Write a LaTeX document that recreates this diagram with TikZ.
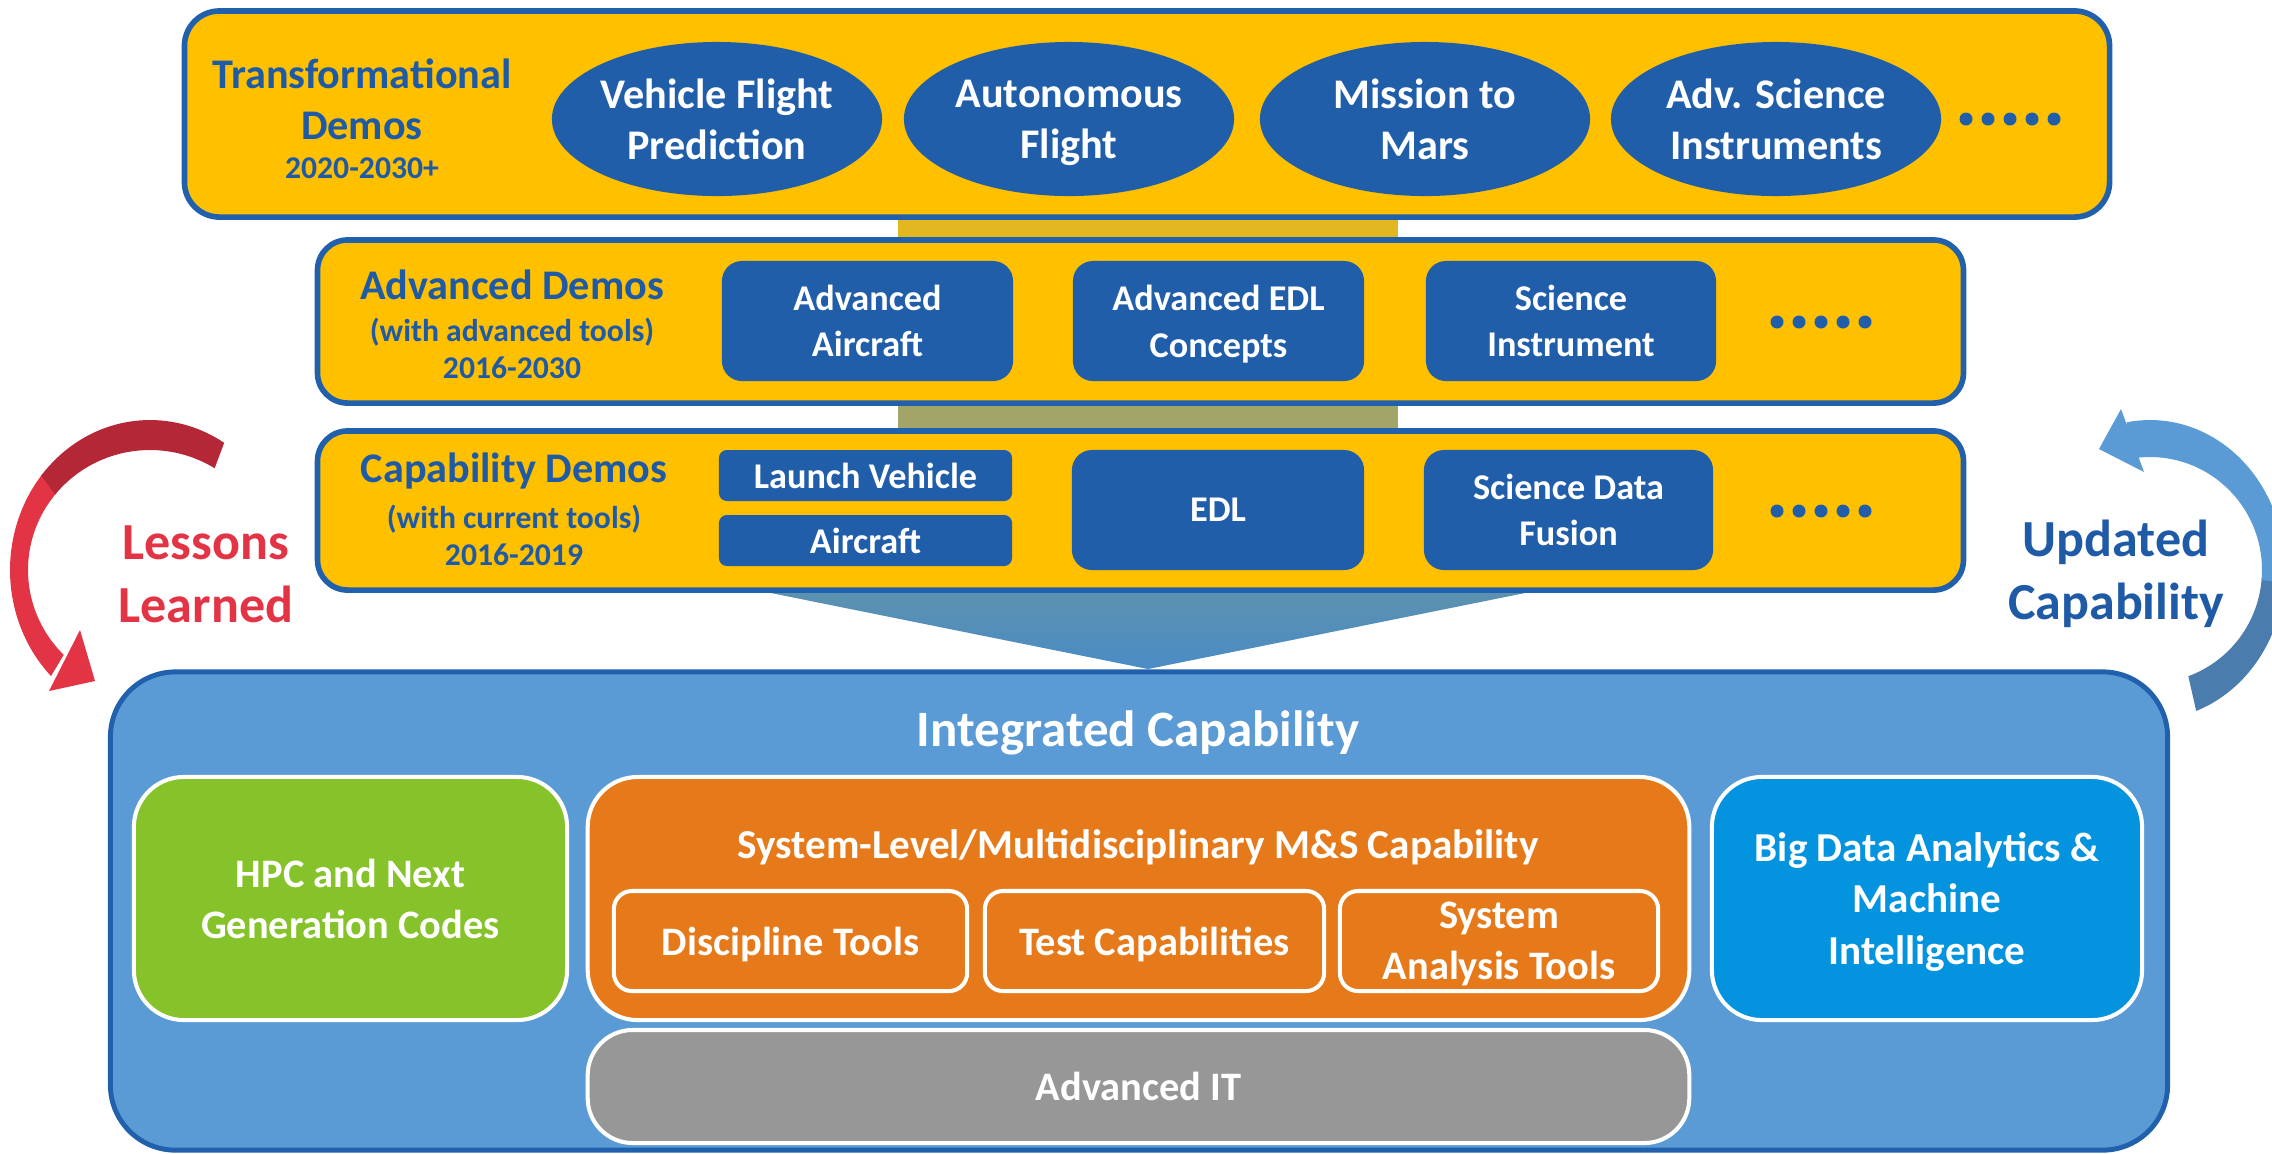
\documentclass[tikz,border=0pt]{standalone}
\usepackage{fontspec}
\setmainfont{Carlito}
\usetikzlibrary{shapes.geometric}
\newcommand\nodepth[1]{\raisebox{0pt}[\height][0pt]{#1}}
\definecolor{gold}{HTML}{FFC000}
\definecolor{navy}{HTML}{2160AC}
\definecolor{tileblue}{HTML}{215EA9}
\definecolor{labelblue}{HTML}{1F5AA6}
\definecolor{skyblue}{HTML}{5B9BD5}
\definecolor{leaf}{HTML}{86C229}
\definecolor{tangerine}{HTML}{E67A1A}
\definecolor{cyanblue}{HTML}{0493DE}
\definecolor{stone}{HTML}{979797}
\definecolor{bandgold}{HTML}{E3B720}
\definecolor{bandolive}{HTML}{A2A567}
\definecolor{lessonred}{HTML}{E33445}
\definecolor{lessondark}{HTML}{B42736}
\definecolor{updlight}{HTML}{5B9BD5}
\definecolor{upddark}{HTML}{4A7DAE}
\definecolor{funneltop}{HTML}{6393A6}
\definecolor{funnelbot}{HTML}{4A8CC6}
\tikzset{
  tier/.style={draw=navy, line width=1.6pt, fill=gold, inner sep=0pt},
  oval/.style={ellipse, fill=tileblue, inner sep=0pt, minimum width=3.3cm, minimum height=1.54cm,
    text=white, align=center, font=\fontsize{12}{14.5}\selectfont\bfseries},
  tile/.style={rounded corners=0.2cm, fill=tileblue, inner sep=0pt, text=white, align=center,
    font=\fontsize{10.3}{13.3}\selectfont\bfseries},
  tiertitle/.style={text=labelblue, align=center, font=\fontsize{12}{14.5}\selectfont\bfseries},
  tiersub/.style={text=labelblue, align=center, font=\fontsize{9}{10.5}\selectfont\bfseries},
  dotmark/.style={circle, fill=tileblue, inner sep=0pt, minimum size=0.13cm},
  block/.style={draw=white, line width=1.15pt, inner sep=0pt, text=white, align=center,
    font=\fontsize{11.5}{14.5}\selectfont\bfseries},
  loopword/.style={align=center, font=\fontsize{14.8}{17.9}\selectfont\bfseries},
}
\begin{document}
\begin{tikzpicture}[x=0.01cm, y=-0.01cm]
\useasboundingbox (0,0) rectangle (2272,1153);

% links between the demo tiers
\fill[bandgold] (898,214) rectangle (1398,242);
\fill[bandolive] (898,400) rectangle (1398,433);

% funnel from the capability demos into the integrated capability
\shade[top color=funneltop, bottom color=funnelbot] (627,564) -- (1669,564) -- (1148,669) -- cycle;

% demo tiers
\node[tier, rounded corners=0.35cm, minimum width=19.24cm, minimum height=2.06cm] (transf) at (1147,114) {};
\node[tier, rounded corners=0.3cm, minimum width=16.45cm, minimum height=1.63cm] (adv) at (1140.5,321.5) {};
\node[tier, rounded corners=0.3cm, minimum width=16.45cm, minimum height=1.59cm] (cap) at (1140.5,510.5) {};

% transformational demos
\node[tiertitle] (transfT) at (362,99) {Transformational\\Demos};
\node[tiersub] (transfY) at (362,168) {2020-2030+};
\node[oval] (vfp) at (717,119) {Vehicle Flight\\Prediction};
\node[oval] (auto) at (1069,119) {Autonomous\\\nodepth{Flight}};
\node[oval] (mars) at (1425,119) {Mission to\\Mars};
\node[oval] (asi) at (1776,119) {Adv. Science\\Instruments};
\foreach \i in {0,...,4} \node[dotmark] (tdot\i) at ({1966+22*\i},119) {};

% advanced demos
\node[tiertitle] (advT) at (512,285) {Advanced Demos};
\node[tiersub] (advS) at (512,348) {(with advanced tools)\\2016-2030};
\node[tile, minimum width=2.91cm, minimum height=1.2cm] (aac) at (867.5,321) {Advanced\\Aircraft};
\node[tile, minimum width=2.91cm, minimum height=1.2cm] (aedl) at (1218.5,321) {Advanced EDL\\\nodepth{Concepts}};
\node[tile, minimum width=2.9cm, minimum height=1.2cm] (sci) at (1571,321) {Science\\Instrument};
\foreach \i in {0,...,4} \node[dotmark] (adot\i) at ({1777+22*\i},322) {};

% capability demos
\node[tiertitle] (capT) at (514,471) {Capability Demos};
\node[tiersub] (capS) at (514,535) {(with current tools)\\2016-2019};
\node[tile, rounded corners=0.08cm, minimum width=2.93cm, minimum height=0.51cm] (lv) at (865.5,475.5) {Launch Vehicle};
\node[tile, rounded corners=0.08cm, minimum width=2.93cm, minimum height=0.51cm] (ac) at (865.5,540.5) {Aircraft};
\node[tile, minimum width=2.92cm, minimum height=1.2cm] (edl) at (1218,510) {EDL};
\node[tile, minimum width=2.89cm, minimum height=1.2cm] (sdf) at (1568.5,510) {Science Data\\Fusion};
\foreach \i in {0,...,4} \node[dotmark] (cdot\i) at ({1777+22*\i},511) {};

% integrated capability
\node[draw=navy, line width=1.4pt, fill=skyblue, rounded corners=0.65cm, inner sep=0pt,
  minimum width=20.56cm, minimum height=4.78cm] (integ) at (1139,911) {};
\node[text=white, font=\fontsize{14.5}{17}\selectfont\bfseries] (integT) at (1138,729) {\nodepth{Integrated Capability}};
\node[block, fill=leaf, rounded corners=0.5cm, minimum width=4.33cm, minimum height=2.43cm] (hpc) at (350.5,898.5) {HPC and Next\\Generation Codes};
\node[block, fill=tangerine, rounded corners=0.5cm, minimum width=11.01cm, minimum height=2.43cm] (ms) at (1138.5,898.5) {};
\node[text=white, font=\fontsize{11.7}{14}\selectfont\bfseries] (msT) at (1138,847) {System-Level/Multidisciplinary M\&S Capability};
\node[block, fill=tangerine, rounded corners=0.18cm, minimum width=3.53cm, minimum height=1.0cm] (disc) at (790.5,941) {\nodepth{Discipline Tools}};
\node[block, fill=tangerine, rounded corners=0.18cm, minimum width=3.39cm, minimum height=1.0cm] (test) at (1154.5,941) {\nodepth{Test Capabilities}};
\node[block, fill=tangerine, rounded corners=0.18cm, minimum width=3.18cm, minimum height=1.0cm] (sat) at (1499,941) {System\\\nodepth{Analysis Tools}};
\node[block, fill=cyanblue, rounded corners=0.5cm, minimum width=4.3cm, minimum height=2.43cm,
  font=\fontsize{11.7}{14.6}\selectfont\bfseries] (bigdata) at (1927,898.5) {Big Data Analytics \&\\Machine\\\nodepth{Intelligence}};
\node[block, fill=stone, rounded corners=0.45cm, minimum width=11.01cm, minimum height=1.13cm] (it) at (1138.5,1086.5) {Advanced IT};

% lessons learned loop
\fill[lessonred] plot[domain=140:225, samples=40] ({150+140*cos(\x)}, {570-150*sin(\x)})
  -- plot[domain=225:140, samples=40] ({150+122*cos(\x)}, {570-120*sin(\x)}) -- cycle;
\fill[lessondark] plot[domain=58:141, samples=40] ({150+140*cos(\x)}, {570-150*sin(\x)})
  -- plot[domain=141:58, samples=40] ({150+122*cos(\x)}, {570-120*sin(\x)}) -- cycle;
\fill[lessonred] (80,630) -- (95,681) -- (49,691) -- cycle;
\node[loopword, text=lessonred] (lessons) at (206,574) {Lessons\\Learned};

% updated capability loop
\fill[upddark] plot[domain=-70:-4, samples=40] ({2150+135*cos(\x)}, {570-150*sin(\x)})
  -- plot[domain=-4:-70, samples=40] ({2150+112*cos(\x)}, {570-113*sin(\x)}) -- cycle;
\fill[updlight] plot[domain=-5:100, samples=50] ({2150+135*cos(\x)}, {570-150*sin(\x)})
  -- plot[domain=100:-5, samples=50] ({2150+112*cos(\x)}, {570-113*sin(\x)}) -- cycle;
\fill[updlight] (2121,409) -- (2099,449) -- (2144,472) -- cycle;
\node[loopword, text=labelblue] (updated) at (2116,574) {Updated\\Capability};
\end{tikzpicture}
\end{document}
